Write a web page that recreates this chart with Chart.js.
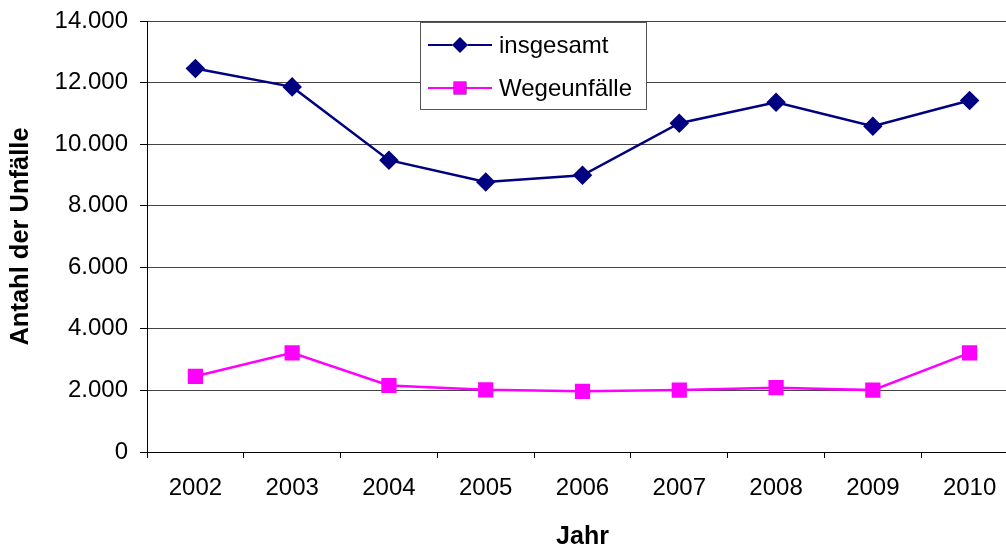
<!DOCTYPE html>
<html>
<head>
<meta charset="utf-8">
<script src="https://cdn.jsdelivr.net/npm/chart.js@4/dist/chart.umd.min.js"></script>
<style>
html,body{margin:0;padding:0;background:#fff;overflow:hidden;width:1006px;height:549px;}
canvas{display:block;}
</style>
</head>
<body>
<canvas id="c" width="1030" height="550"></canvas>
<script>
const years = ['2002','2003','2004','2005','2006','2007','2008','2009','2010'];
const insgesamt = [12460, 11860, 9480, 8770, 8990, 10680, 11360, 10580, 11420];
const wegeunfaelle = [2460, 3220, 2160, 2020, 1970, 2010, 2090, 2010, 3220];
const yTicks = [0, 2000, 4000, 6000, 8000, 10000, 12000, 14000];
const seriesNames = ['insgesamt', 'Wegeunfälle'];
const yTitle = 'Antahl der Unfälle';
const xTitle = 'Jahr';

const FONT = 'Arial, "Liberation Sans", sans-serif';
function fmt(v){ return String(v).replace(/\B(?=(\d{3})+(?!\d))/g, '.'); }

const legendBox = {
  id: 'legendBox',
  afterDraw(chart){
    const ctx = chart.ctx;
    ctx.save();
    ctx.fillStyle = '#fff';
    ctx.fillRect(420, 22, 226, 87);
    ctx.strokeStyle = '#555';
    ctx.lineWidth = 1;
    ctx.strokeRect(420.5, 22.5, 226, 87);
    const rows = [45, 88];
    chart.data.datasets.forEach((ds, i) => {
      const y = rows[i];
      ctx.strokeStyle = ds.borderColor;
      ctx.lineWidth = 2;
      ctx.beginPath(); ctx.moveTo(428, y); ctx.lineTo(492, y); ctx.stroke();
      Chart.helpers.drawPoint(ctx, {pointStyle: ds.pointStyle, radius: ds.pointRadius, borderWidth: 0}, 460, y);
      ctx.fillStyle = ds.pointBackgroundColor;
      ctx.fill();
      ctx.fillStyle = '#000';
      ctx.font = '24px ' + FONT;
      ctx.textBaseline = 'middle';
      ctx.textAlign = 'left';
      ctx.fillText(ds.label, 499, y + 1);
    });
    ctx.restore();
  }
};

new Chart(document.getElementById('c'), {
  type: 'line',
  data: {
    labels: years,
    datasets: [
      {label: seriesNames[0], data: insgesamt, borderColor: '#000080', backgroundColor: '#000080',
       pointBackgroundColor: '#000080', pointBorderColor: '#000080', pointStyle: 'rectRot', pointRadius: 8,
       borderWidth: 2.5, tension: 0},
      {label: seriesNames[1], data: wegeunfaelle, borderColor: '#FF00FF', backgroundColor: '#FF00FF',
       pointBackgroundColor: '#FF00FF', pointBorderColor: '#FF00FF', pointStyle: 'rect', pointRadius: 9,
       borderWidth: 2.5, tension: 0}
    ]
  },
  options: {
    responsive: false,
    animation: false,
    layout: {padding: {left: 6, right: 12, top: 21, bottom: 0}},
    plugins: {legend: {display: false}, tooltip: {enabled: false}},
    scales: {
      x: {
        offset: true,
        grid: {offset: true, drawOnChartArea: false, drawTicks: true, tickLength: 6, tickColor: '#000'},
        border: {color: '#000', width: 1},
        ticks: {color: '#000', font: {family: FONT, size: 24}, padding: 16, maxRotation: 0},
        title: {display: true, text: xTitle, color: '#000', font: {family: FONT, size: 25, weight: 'bold'}, padding: {top: 0, bottom: -2}},
        afterFit(s){ s.height = 98; s.paddingLeft = 0; s.paddingRight = 0; }
      },
      y: {
        min: 0, max: 14000,
        afterBuildTicks(s){ s.ticks = yTicks.map(v => ({value: v})); },
        grid: {color: '#444', tickColor: '#000', tickLength: 7, lineWidth: 1},
        border: {color: '#000', width: 1},
        ticks: {color: '#000', font: {family: FONT, size: 24}, padding: 12, callback: v => fmt(v)},
        title: {display: true, text: yTitle, color: '#000', font: {family: FONT, size: 25.5, weight: 'bold'}, padding: 0},
        afterFit(s){ s.width = 141; s.paddingTop = 0; s.paddingBottom = 0; }
      }
    }
  },
  plugins: [legendBox]
});
</script>
</body>
</html>
